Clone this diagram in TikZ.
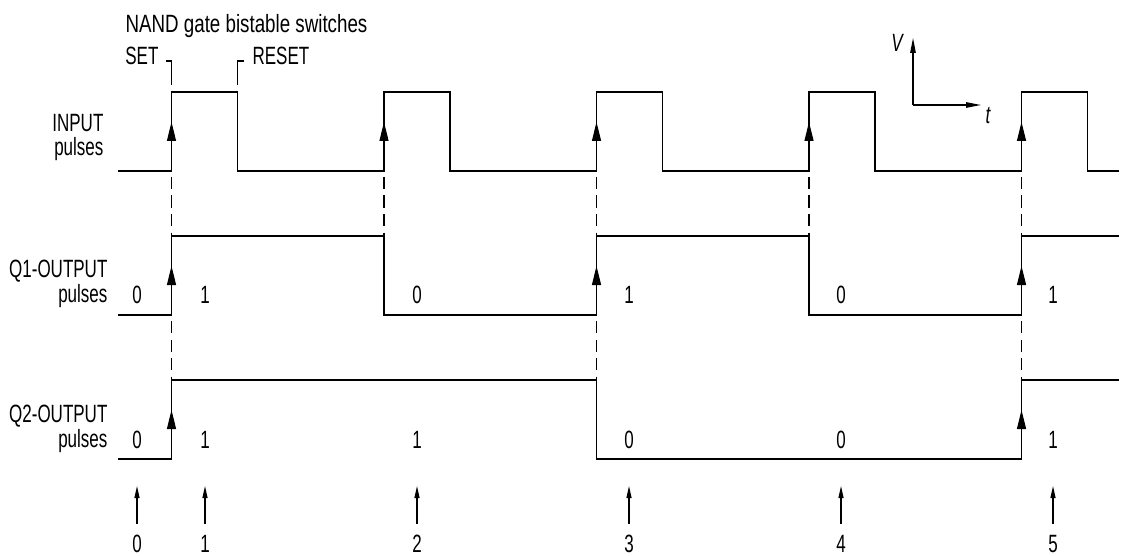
\documentclass[tikz,border=0pt]{standalone}
\usepackage{fontspec}
\setmainfont{Liberation Sans}[FakeStretch=0.68]
\newfontfamily\titlefont{Liberation Sans}[FakeStretch=0.75]
\usetikzlibrary{arrows.meta}

\begin{document}
\begin{tikzpicture}[x=1pt,y=-1pt,line width=1.2pt,
  txt/.style={font=\fontsize{25}{27}\selectfont,inner sep=0pt},
  edgetip/.style={-{Triangle[length=19pt,width=9pt]}},
  marktip/.style={-{Triangle[length=12pt,width=5pt]}},
  axistip/.style={-{Triangle[length=15pt,width=5.5pt]}},
  guide/.style={dash pattern=on 12pt off 6.5pt,dash phase=12.5pt}]
\useasboundingbox (0,0) rectangle (1121,556);

% waveforms
\draw (118,171) \foreach \r in {171.5,384,596.5,809,1021.5}
  { -- (\r,171) -- (\r,92) -- (\r+66,92) -- (\r+66,171) } -- (1119,171);
\draw (118,315) -- (171.5,315) -- (171.5,236) -- (384,236) -- (384,315)
  -- (596.5,315) -- (596.5,236) -- (809,236) -- (809,315)
  -- (1021.5,315) -- (1021.5,236) -- (1119,236);
\draw (118,459) -- (171.5,459) -- (171.5,380) -- (596.5,380)
  -- (596.5,459) -- (1021.5,459) -- (1021.5,380) -- (1119,380);

% arrowheads on the rising edges
\foreach \r in {171.5,384,596.5,809,1021.5}
  \draw[edgetip] (\r,150) -- (\r,122);
\foreach \r in {171.5,596.5,1021.5}
  \draw[edgetip] (\r,295) -- (\r,266);
\foreach \r in {171.5,1021.5}
  \draw[edgetip] (\r,440) -- (\r,410);

% dashed timing guides
\foreach \r in {171.5,384,596.5,809,1021.5}
  \draw[guide] (\r,171) -- (\r,236);
\foreach \r in {171.5,596.5,1021.5}
  \draw[guide] (\r,315) -- (\r,380);

% SET / RESET markers
\draw (166,61) -- (171.5,61) -- (171.5,85);
\draw (244,61) -- (237.5,61) -- (237.5,85);
\node[txt,anchor=base east] (set) at (159,65) {SET};
\node[txt,anchor=base west] (reset) at (252,65) {RESET};
\node[txt,anchor=base west,font=\fontsize{25}{27}\titlefont] (title) at (125,33) {NAND gate bistable switches};

% V-t axes
\coordinate (orig) at (913,105);
\coordinate (vend) at (913,38);
\coordinate (tend) at (981,105);
\draw[axistip] (orig) -- (vend);
\draw[axistip] (orig) -- (tend);
\node[txt,anchor=base,font=\fontsize{25}{27}\selectfont\itshape] (vlab) at (897,52) {V};
\node[txt,anchor=base,font=\fontsize{25}{27}\selectfont\itshape] (tlab) at (988,124) {t};

% row titles
\node[txt,anchor=base east] (in1) at (104,131.5) {INPUT};
\node[txt,anchor=base east] (in2) at (104,156) {pulses};
\node[txt,anchor=base east] (qa1) at (108,277) {Q1-OUTPUT};
\node[txt,anchor=base east] (qa2) at (108,302) {pulses};
\node[txt,anchor=base east] (qb1) at (108,422) {Q2-OUTPUT};
\node[txt,anchor=base east] (qb2) at (108,447) {pulses};

% logic states
\foreach \x/\v [count=\i] in {137/0,205/1,417/0,629/1,841/0,1053/1}
  \node[txt,anchor=base] (qa\i) at (\x,303) {\v};
\foreach \x/\v [count=\i] in {137/0,205/1,417/1,629/0,841/0,1053/1}
  \node[txt,anchor=base] (qb\i) at (\x,448) {\v};

% numbered instants
\foreach \x [count=\i from 0] in {137,205,417,629,841,1053} {
  \node[txt,anchor=base] (n\i) at (\x,552) {\i};
  \coordinate (m\i) at (\x,486);
  \draw[marktip] (n\i.north) ++(0,-10) -- (m\i);
}
\end{tikzpicture}
\end{document}
